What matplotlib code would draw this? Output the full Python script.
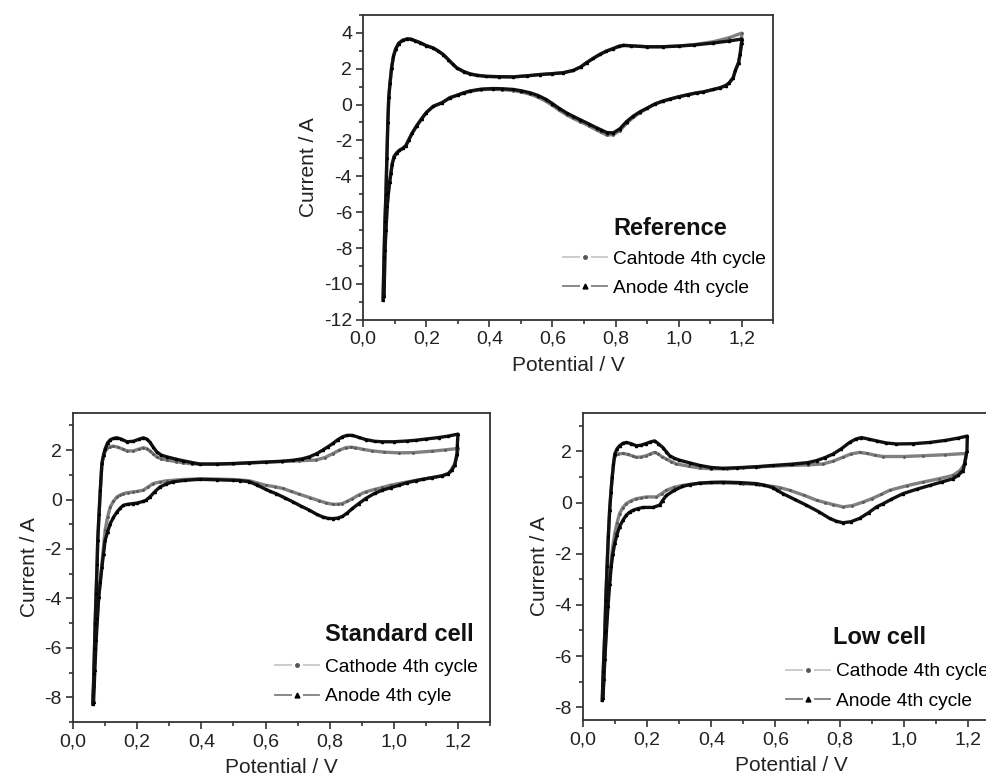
import matplotlib
matplotlib.use("Agg")
import matplotlib.pyplot as plt
from matplotlib.lines import Line2D
from matplotlib.legend_handler import HandlerTuple
from matplotlib.ticker import MultipleLocator

plt.rcParams['font.family'] = ['Liberation Sans', 'DejaVu Sans']

# ---- data: each curve is one CV loop (up sweep, then back) ----

# Reference cell
ref_anode_x = [0.063, 0.066, 0.069, 0.072, 0.075, 0.078, 0.081, 0.085, 0.09, 0.096, 0.103, 0.112, 0.125, 0.14, 0.152,
               0.165, 0.18, 0.2, 0.222, 0.238, 0.254, 0.27, 0.284, 0.296, 0.318, 0.34, 0.36, 0.39, 0.43, 0.476, 0.52,
               0.56, 0.6, 0.634, 0.666, 0.69, 0.708, 0.73, 0.75, 0.77, 0.793, 0.81, 0.825, 0.85, 0.9, 0.95, 1.0, 1.05,
               1.11, 1.16, 1.2,
               1.2, 1.195, 1.19, 1.18, 1.173, 1.16, 1.15, 1.131, 1.11, 1.078, 1.057, 1.03, 1.0, 0.972, 0.95, 0.925,
               0.9, 0.878, 0.856, 0.835, 0.814, 0.793, 0.772, 0.755, 0.74, 0.715, 0.687, 0.665, 0.645, 0.62, 0.6,
               0.58, 0.555, 0.53, 0.5, 0.476, 0.44, 0.412, 0.375, 0.34, 0.32, 0.3, 0.275, 0.25, 0.222, 0.2, 0.185,
               0.169, 0.155, 0.145, 0.135, 0.125, 0.115, 0.106, 0.098, 0.092, 0.088, 0.084, 0.08, 0.076, 0.072,
               0.069, 0.066]
ref_anode_y = [-10.9, -8.5, -6.5, -5.0, -3.0, -1.0, 0.4, 1.2, 2.05, 2.7, 3.1, 3.4, 3.58, 3.66, 3.64,
               3.55, 3.45, 3.28, 3.15, 2.98, 2.78, 2.5, 2.25, 2.05, 1.84, 1.7, 1.63, 1.57, 1.55, 1.54, 1.6,
               1.67, 1.72, 1.77, 1.9, 2.1, 2.33, 2.58, 2.79, 2.97, 3.12, 3.24, 3.3, 3.27, 3.22, 3.22, 3.26, 3.32,
               3.43, 3.54, 3.65,
               3.45, 2.8, 2.33, 1.9, 1.49, 1.2, 1.06, 0.93, 0.84, 0.7, 0.65, 0.55, 0.43, 0.3, 0.19, 0.03,
               -0.2, -0.4, -0.65, -0.95, -1.35, -1.58, -1.56, -1.42, -1.3, -1.08, -0.84, -0.65, -0.47, -0.2, 0.05,
               0.28, 0.5, 0.65, 0.77, 0.84, 0.88, 0.89, 0.86, 0.76, 0.66, 0.53, 0.38, 0.1, -0.1, -0.45, -0.8,
               -1.2, -1.6, -1.95, -2.3, -2.45, -2.55, -2.7, -2.9, -3.3, -3.8, -4.3, -4.9, -5.67, -7.0,
               -8.1, -10.7]

ref_cathode_x = [0.063, 0.066, 0.069, 0.072, 0.075, 0.078, 0.081, 0.085, 0.09, 0.096, 0.103, 0.112, 0.125, 0.14, 0.152,
                 0.165, 0.18, 0.2, 0.222, 0.238, 0.254, 0.27, 0.284, 0.296, 0.318, 0.34, 0.36, 0.39, 0.43, 0.476, 0.52,
                 0.56, 0.6, 0.634, 0.666, 0.69, 0.708, 0.73, 0.75, 0.77, 0.793, 0.81, 0.825, 0.85, 0.9, 0.95, 1.0, 1.05,
                 1.11, 1.16, 1.2,
                 1.2, 1.195, 1.19, 1.18, 1.173, 1.16, 1.15, 1.131, 1.11, 1.078, 1.057, 1.03, 1.0, 0.972, 0.95, 0.925,
                 0.9, 0.878, 0.856, 0.835, 0.814, 0.793, 0.772, 0.755, 0.74, 0.715, 0.687, 0.665, 0.645, 0.62, 0.6,
                 0.58, 0.555, 0.53, 0.5, 0.476, 0.44, 0.412, 0.375, 0.34, 0.32, 0.3, 0.275, 0.25, 0.222, 0.2, 0.185,
                 0.169, 0.155, 0.145, 0.135, 0.125, 0.115, 0.106, 0.098, 0.092, 0.088, 0.084, 0.08, 0.076, 0.072,
                 0.069, 0.066]
ref_cathode_y = [-10.9, -8.5, -6.5, -5.0, -3.0, -1.0, 0.4, 1.2, 2.05, 2.7, 3.1, 3.4, 3.58, 3.66, 3.64,
                 3.55, 3.45, 3.28, 3.15, 2.98, 2.78, 2.5, 2.25, 2.05, 1.84, 1.7, 1.63, 1.57, 1.55, 1.54, 1.6,
                 1.67, 1.72, 1.77, 1.9, 2.1, 2.33, 2.58, 2.79, 2.97, 3.12, 3.24, 3.3, 3.27, 3.22, 3.22, 3.26, 3.34,
                 3.5, 3.72, 3.98,
                 3.6, 2.8, 2.33, 1.9, 1.49, 1.2, 1.06, 0.93, 0.84, 0.7, 0.65, 0.55, 0.43, 0.3, 0.19, 0.03,
                 -0.22, -0.45, -0.72, -1.05, -1.45, -1.68, -1.7, -1.55, -1.42, -1.18, -0.95, -0.76, -0.58, -0.3, -0.05,
                 0.18, 0.4, 0.57, 0.7, 0.78, 0.83, 0.85, 0.83, 0.74, 0.65, 0.53, 0.38, 0.1, -0.1, -0.45, -0.8,
                 -1.2, -1.6, -1.95, -2.3, -2.45, -2.55, -2.7, -2.9, -3.3, -3.8, -4.3, -4.9, -5.67, -7.0,
                 -8.1, -10.7]

# Standard cell
std_anode_x = [0.062, 0.065, 0.067, 0.069, 0.072, 0.075, 0.077, 0.081, 0.085, 0.09, 0.095, 0.1, 0.108, 0.116, 0.127,
               0.137, 0.15, 0.168, 0.188, 0.205, 0.219, 0.23, 0.24, 0.25, 0.261, 0.275, 0.292, 0.32, 0.343, 0.37,
               0.395, 0.45, 0.5, 0.55, 0.6, 0.65, 0.685, 0.715, 0.737, 0.76, 0.778, 0.795, 0.81, 0.825, 0.84, 0.855,
               0.871, 0.89, 0.912, 0.94, 0.964, 1.0, 1.04, 1.068, 1.1, 1.14, 1.17, 1.2,
               1.198, 1.197, 1.19, 1.18, 1.17, 1.15, 1.12, 1.09, 1.068, 1.04, 1.016, 0.99, 0.964, 0.94, 0.912, 0.89,
               0.871, 0.855, 0.84, 0.825, 0.81, 0.795, 0.778, 0.76, 0.737, 0.71, 0.685, 0.66, 0.633, 0.615, 0.6,
               0.575, 0.55, 0.52, 0.5, 0.45, 0.395, 0.35, 0.312, 0.29, 0.271, 0.255, 0.24, 0.228, 0.219, 0.2, 0.188,
               0.17, 0.157, 0.147, 0.137, 0.126, 0.116, 0.108, 0.1, 0.095, 0.09, 0.085, 0.08, 0.076, 0.072, 0.068,
               0.064]
std_anode_y = [-8.27, -7.0, -6.0, -5.0, -3.8, -2.6, -1.65, -0.6, 0.38, 1.46, 1.8, 2.05, 2.3, 2.42, 2.48,
               2.5, 2.45, 2.34, 2.36, 2.44, 2.5, 2.45, 2.32, 2.12, 1.93, 1.8, 1.73, 1.64, 1.57, 1.5,
               1.44, 1.44, 1.46, 1.49, 1.52, 1.55, 1.59, 1.65, 1.73, 1.86, 2.0, 2.14, 2.27, 2.42, 2.54, 2.6,
               2.6, 2.52, 2.43, 2.36, 2.34, 2.34, 2.37, 2.4, 2.45, 2.51, 2.57, 2.65,
               2.2, 1.86, 1.39, 1.18, 1.05, 0.96, 0.89, 0.82, 0.76, 0.68, 0.58, 0.48, 0.38, 0.25, 0.04, -0.17,
               -0.36, -0.54, -0.68, -0.75, -0.77, -0.76, -0.7, -0.6, -0.43, -0.26, -0.09, 0.07, 0.24, 0.33, 0.42,
               0.58, 0.72, 0.77, 0.78, 0.8, 0.82, 0.78, 0.72, 0.63, 0.51, 0.32, 0.11, -0.02, -0.07, -0.14, -0.16,
               -0.19, -0.23, -0.35, -0.5, -0.72, -0.97, -1.3, -1.65, -2.2, -2.73, -3.35, -3.95, -4.8, -5.7, -6.9,
               -8.2]

std_cathode_x = [0.062, 0.065, 0.067, 0.069, 0.072, 0.075, 0.077, 0.081, 0.085, 0.09, 0.097, 0.105, 0.116, 0.126,
                 0.14, 0.155, 0.168, 0.188, 0.205, 0.219, 0.23, 0.24, 0.25, 0.261, 0.275, 0.292, 0.32, 0.343, 0.37,
                 0.395, 0.45, 0.5, 0.55, 0.6, 0.65, 0.705, 0.757, 0.785, 0.81, 0.83, 0.85, 0.865, 0.88, 0.905,
                 0.933, 0.97, 1.016, 1.06, 1.12, 1.16, 1.2,
                 1.198, 1.19, 1.18, 1.17, 1.15, 1.12, 1.07, 1.016, 0.99, 0.964, 0.94, 0.912, 0.89, 0.871, 0.855,
                 0.84, 0.825, 0.81, 0.79, 0.768, 0.74, 0.705, 0.68, 0.654, 0.63, 0.6, 0.575, 0.55, 0.5, 0.45, 0.395,
                 0.34, 0.292, 0.27, 0.25, 0.235, 0.219, 0.2, 0.188, 0.17, 0.157, 0.147, 0.137, 0.126, 0.116, 0.108,
                 0.1, 0.095, 0.09, 0.085, 0.08, 0.075, 0.069, 0.066, 0.062]
std_cathode_y = [-8.27, -7.0, -6.0, -5.0, -3.8, -2.6, -1.65, -0.6, 0.38, 1.46, 1.85, 2.07, 2.14, 2.16,
                 2.12, 2.04, 1.97, 1.97, 2.04, 2.1, 2.06, 1.97, 1.85, 1.73, 1.65, 1.6, 1.54, 1.49, 1.45,
                 1.43, 1.43, 1.45, 1.48, 1.51, 1.54, 1.57, 1.6, 1.7, 1.86, 2.0, 2.1, 2.12, 2.1, 2.03,
                 1.97, 1.92, 1.89, 1.9, 1.96, 2.01, 2.07,
                 1.8, 1.46, 1.22, 1.05, 0.96, 0.89, 0.78, 0.65, 0.58, 0.49, 0.41, 0.31, 0.18, 0.04, -0.07,
                 -0.16, -0.19, -0.19, -0.14, -0.05, 0.07, 0.22, 0.33, 0.45, 0.52, 0.58, 0.67, 0.76, 0.81, 0.83, 0.84,
                 0.81, 0.76, 0.71, 0.65, 0.52, 0.38, 0.33, 0.31, 0.28, 0.24, 0.18, 0.11, -0.07, -0.3, -0.7,
                 -1.24, -1.9, -2.6, -3.3, -3.95, -4.9, -5.84, -7.0, -8.27]

# Low cell
low_anode_x = [0.06, 0.063, 0.068, 0.071, 0.075, 0.079, 0.083, 0.087, 0.091, 0.095, 0.099, 0.106, 0.114, 0.125, 0.135,
               0.15, 0.166, 0.18, 0.195, 0.21, 0.223, 0.235, 0.249, 0.26, 0.27, 0.285, 0.3, 0.333, 0.364, 0.4, 0.436,
               0.48, 0.54, 0.592, 0.65, 0.7, 0.728, 0.755, 0.78, 0.805, 0.831, 0.85, 0.868, 0.89, 0.915, 0.945, 0.977,
               1.03, 1.081, 1.13, 1.17, 1.198,
               1.197, 1.19, 1.185, 1.17, 1.153, 1.12, 1.081, 1.04, 0.998, 0.96, 0.935, 0.915, 0.89, 0.862, 0.835,
               0.81, 0.79, 0.769, 0.735, 0.696, 0.66, 0.623, 0.605, 0.592, 0.565, 0.54, 0.49, 0.436, 0.4, 0.364,
               0.333, 0.31, 0.285, 0.26, 0.248, 0.239, 0.218, 0.187, 0.17, 0.156, 0.145, 0.135, 0.124, 0.114, 0.106,
               0.099, 0.093, 0.088, 0.083, 0.078, 0.073, 0.068, 0.065, 0.062]
low_anode_y = [-7.72, -6.6, -5.07, -3.8, -2.49, -1.3, -0.3, 0.4, 1.0, 1.5, 1.9, 2.1, 2.22, 2.32, 2.35,
               2.3, 2.22, 2.24, 2.3, 2.37, 2.41, 2.3, 2.15, 1.98, 1.83, 1.73, 1.66, 1.55, 1.45, 1.37, 1.34,
               1.36, 1.4, 1.45, 1.5, 1.56, 1.64, 1.76, 1.9, 2.1, 2.35, 2.48, 2.54, 2.48, 2.41, 2.33, 2.29,
               2.3, 2.35, 2.43, 2.52, 2.6,
               2.03, 1.55, 1.25, 1.07, 0.93, 0.81, 0.67, 0.52, 0.35, 0.12, -0.05, -0.17, -0.4, -0.62, -0.75,
               -0.79, -0.73, -0.62, -0.36, -0.1, 0.12, 0.35, 0.48, 0.58, 0.68, 0.74, 0.78, 0.8, 0.79, 0.76,
               0.7, 0.63, 0.48, 0.28, 0.08, -0.1, -0.19, -0.19, -0.24, -0.3, -0.38, -0.49, -0.7, -0.94, -1.25,
               -1.59, -2.0, -2.49, -3.2, -4.04, -5.0, -6.1, -6.9, -7.65]

low_cathode_x = [0.06, 0.063, 0.068, 0.071, 0.075, 0.079, 0.083, 0.087, 0.091, 0.095, 0.099, 0.11, 0.125, 0.14,
                 0.155, 0.166, 0.18, 0.197, 0.21, 0.223, 0.235, 0.245, 0.26, 0.275, 0.291, 0.33, 0.364, 0.4, 0.45,
                 0.5, 0.55, 0.644, 0.7, 0.748, 0.78, 0.81, 0.835, 0.862, 0.885, 0.91, 0.935, 1.0, 1.06, 1.13, 1.195,
                 1.195, 1.19, 1.175, 1.153, 1.11, 1.06, 1.01, 0.956, 0.93, 0.9, 0.873, 0.84, 0.81, 0.78, 0.755,
                 0.728, 0.69, 0.644, 0.615, 0.592, 0.55, 0.5, 0.436, 0.364, 0.31, 0.285, 0.26, 0.245, 0.229, 0.197,
                 0.18, 0.166, 0.15, 0.135, 0.124, 0.114, 0.106, 0.099, 0.093, 0.088, 0.083, 0.078, 0.073, 0.068,
                 0.065, 0.062]
low_cathode_y = [-7.72, -6.6, -5.07, -3.8, -2.49, -1.3, -0.3, 0.4, 1.0, 1.5, 1.83, 1.9, 1.92, 1.88,
                 1.82, 1.77, 1.78, 1.83, 1.9, 1.96, 1.9, 1.8, 1.7, 1.6, 1.51, 1.42, 1.35, 1.32, 1.32,
                 1.36, 1.4, 1.45, 1.47, 1.51, 1.62, 1.77, 1.9, 1.96, 1.92, 1.85, 1.8, 1.8, 1.83, 1.87, 1.92,
                 1.89, 1.51, 1.25, 1.06, 0.93, 0.8, 0.66, 0.48, 0.32, 0.15, 0.02, -0.12, -0.17, -0.08, 0.0,
                 0.09, 0.28, 0.48, 0.58, 0.63, 0.7, 0.74, 0.77, 0.76, 0.67, 0.6, 0.48, 0.35, 0.22, 0.22,
                 0.18, 0.15, 0.07, -0.04, -0.2, -0.43, -0.8, -1.2, -1.7, -2.23, -3.0, -3.78, -4.8, -5.97,
                 -6.9, -7.65]

x_ticks = [0.0, 0.2, 0.4, 0.6, 0.8, 1.0, 1.2]
x_ticklabels = ['0,0', '0,2', '0,4', '0,6', '0,8', '1,0', '1,2']
ref_yticks = [4, 2, 0, -2, -4, -6, -8, -10, -12]
cell_yticks = [2, 0, -2, -4, -6, -8]

panels = [
    # title, cathode label, anode label, curves, ylim, yticks, axes rect, legend anchor
    ('Reference', 'Cahtode 4th cycle', 'Anode 4th cycle',
     (ref_cathode_x, ref_cathode_y, ref_anode_x, ref_anode_y), (-12, 5), ref_yticks,
     [0.368, 0.590, 0.4154, 0.391], (0.61, 0.30, 0.487, 0.228)),
    ('Standard cell', 'Cathode 4th cycle', 'Anode 4th cyle',
     (std_cathode_x, std_cathode_y, std_anode_x, std_anode_y), (-9, 3.5), cell_yticks,
     [0.074, 0.0744, 0.4225, 0.396], (0.604, 0.283, 0.484, 0.205)),
    ('Low cell', 'Cathode 4th cycle', 'Anode 4th cycle',
     (low_cathode_x, low_cathode_y, low_anode_x, low_anode_y), (-8.5, 3.5), cell_yticks,
     [0.5907, 0.0769, 0.4225, 0.3936], (0.60, 0.268, 0.487, 0.186)),
]

fig = plt.figure(figsize=(9.87, 7.80), dpi=100)

for title, cat_label, an_label, curves, ylim, yticks, rect, leg in panels:
    cx, cy, anx, any_ = curves
    ax = fig.add_axes(rect)
    ax.plot(cx, cy, color='#808080', lw=2.4, marker='.', ms=2.0, mfc='#555555', mec='#555555', zorder=2)
    ax.plot(anx, any_, color='#111111', lw=2.4, marker='^', ms=1.5, mfc='black', mec='black', zorder=3)

    ax.set_xlim(0, 1.3)
    ax.set_ylim(*ylim)
    ax.set_xticks(x_ticks)
    ax.set_xticklabels(x_ticklabels)
    ax.set_yticks(yticks)
    ax.set_yticklabels([str(v) for v in yticks])
    ax.xaxis.set_minor_locator(MultipleLocator(0.1))
    ax.yaxis.set_minor_locator(MultipleLocator(1))
    ax.tick_params(which='both', direction='out', top=False, right=False,
                   colors='#222222', width=1.1, labelsize=14, pad=3)
    ax.tick_params(which='major', length=5)
    ax.tick_params(which='minor', length=3)
    for sp in ax.spines.values():
        sp.set_color('#333333')
        sp.set_linewidth(1.3)
    ax.set_xlabel('Potential / V', fontsize=15, color='#222222', labelpad=6)
    ax.set_ylabel('Current / A', fontsize=15, color='#222222', labelpad=4)

    tx, ty, hx, hy = leg
    ax.text(tx, ty, title, transform=ax.transAxes, fontsize=17, fontweight='bold',
            va='center', ha='left', color='#111111')
    gap_c = Line2D([], [], ls='none', marker='o', ms=7, mfc='white', mec='white')
    gap_a = Line2D([], [], ls='none', marker='o', ms=7, mfc='white', mec='white')
    h_cat = (Line2D([], [], color='#c8c8c8', lw=1.3), gap_c,
             Line2D([], [], ls='none', marker='o', ms=2.5, mfc='#555555', mec='#555555'))
    h_an = (Line2D([], [], color='#808080', lw=1.3), gap_a,
            Line2D([], [], ls='none', marker='^', ms=3.5, mfc='black', mec='black'))
    ax.legend([h_cat, h_an], [cat_label, an_label], loc='upper left', bbox_to_anchor=(hx, hy),
              frameon=False, fontsize=13.8, handlelength=2.3, handletextpad=0.3, borderpad=0,
              borderaxespad=0, labelspacing=0.62, numpoints=1,
              handler_map={tuple: HandlerTuple(ndivide=1, pad=0)})

fig.savefig('out.png', dpi=100)
